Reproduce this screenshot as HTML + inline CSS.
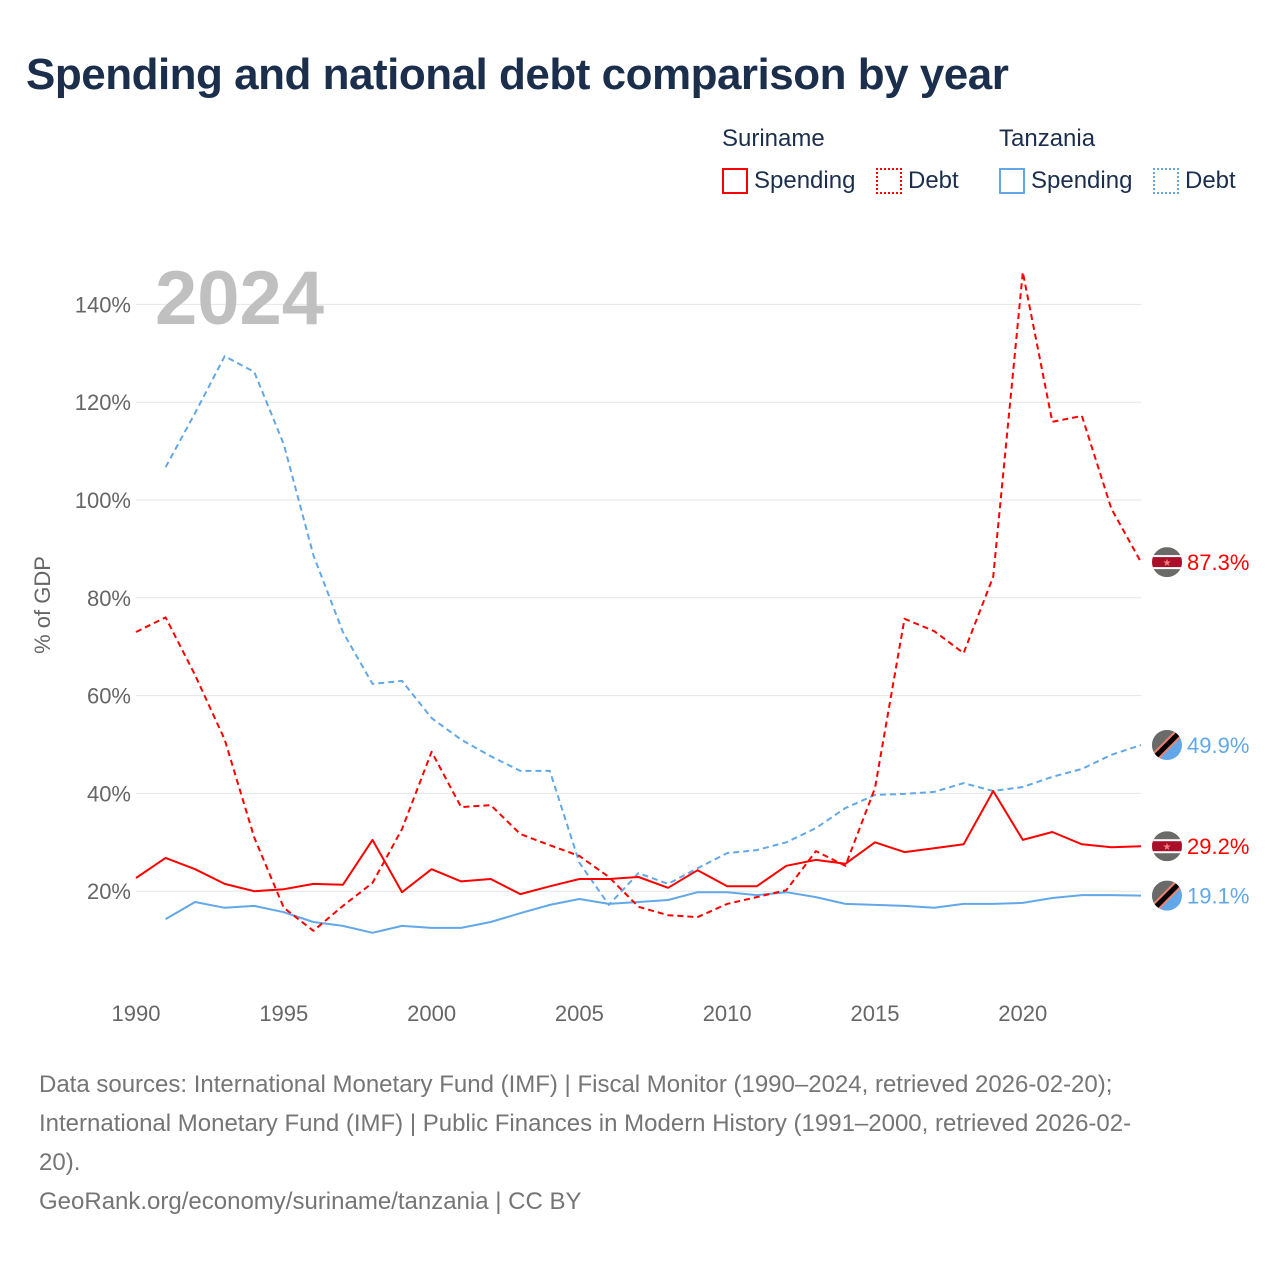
<!DOCTYPE html>
<html><head><meta charset="utf-8"><style>
body{margin:0;background:#fff;font-family:"Liberation Sans",sans-serif;}
#wrap{position:relative;width:1280px;height:1280px;overflow:hidden;}
.t{position:absolute;white-space:nowrap;}
</style></head><body>
<div id="wrap">
<div class="t" style="left:26px;top:50px;font-size:44px;font-weight:bold;color:#1b2f4d;letter-spacing:-0.5px">Spending and national debt comparison by year</div>
<div class="t" style="left:722px;top:125px;font-size:24px;color:#1b2f4d">Suriname</div>
<div class="t" style="left:999px;top:125px;font-size:24px;color:#1b2f4d">Tanzania</div>
<div class="t" style="left:722px;top:167px;font-size:24px;color:#1b2f4d"><span style="display:inline-block;width:22px;height:22px;border:2px solid #f00;vertical-align:-6px;margin-right:6px"></span>Spending</div>
<div class="t" style="left:876px;top:167px;font-size:24px;color:#1b2f4d"><span style="display:inline-block;width:22px;height:22px;border:2px dotted #f00;vertical-align:-6px;margin-right:6px"></span>Debt</div>
<div class="t" style="left:999px;top:167px;font-size:24px;color:#1b2f4d"><span style="display:inline-block;width:22px;height:22px;border:2px solid #62a8e8;vertical-align:-6px;margin-right:6px"></span>Spending</div>
<div class="t" style="left:1153px;top:167px;font-size:24px;color:#1b2f4d"><span style="display:inline-block;width:22px;height:22px;border:2px dotted #62a8e8;vertical-align:-6px;margin-right:6px"></span>Debt</div>
<svg id="chart" width="1280" height="1280" style="position:absolute;left:0;top:0"></svg>
<div class="t" style="left:39px;top:1065px;font-size:24px;line-height:39px;color:#757575;white-space:nowrap;">Data sources: International Monetary Fund (IMF) | Fiscal Monitor (1990–2024, retrieved 2026-02-20);<br>International Monetary Fund (IMF) | Public Finances in Modern History (1991–2000, retrieved 2026-02-<br>20).<br>GeoRank.org/economy/suriname/tanzania | CC BY</div>
</div>
<script>
const years=[];for(let y=1990;y<=2024;y++)years.push(y);
const surSpending=[22.7,26.8,24.5,21.5,20,20.4,21.5,21.3,30.5,19.8,24.5,22,22.5,19.4,21,22.5,22.5,22.9,20.7,24.3,21,21,25.2,26.4,25.6,30,28,28.8,29.6,40.5,30.5,32.1,29.6,29,29.2];
const surDebt=[73,76,64.2,51,31,16.6,11.9,17,21.7,32.7,48.5,37.2,37.6,31.7,29.4,27.2,22.9,16.8,15.1,14.7,17.4,18.8,20.2,28.2,25.2,41.1,75.7,73.2,68.7,84.3,146.6,116,117.2,98.2,87.3];
const tzaSpending=[null,14.3,17.8,16.6,17,15.7,13.7,12.9,11.5,12.9,12.5,12.5,13.7,15.5,17.2,18.4,17.4,17.8,18.2,19.8,19.8,19.2,19.8,18.8,17.4,17.2,17,16.6,17.4,17.4,17.6,18.6,19.2,19.2,19.1];
const tzaDebt=[null,106.7,117.8,129.4,126.2,111.4,88.7,73,62.4,63,55.4,51,47.6,44.6,44.6,25.8,17.2,23.7,21.5,24.7,27.8,28.4,30,32.9,37,39.7,39.9,40.3,42.1,40.5,41.3,43.4,45,47.9,49.9];
const yTicks=[20,40,60,80,100,120,140];
const xTicks=[1990,1995,2000,2005,2010,2015,2020];
const NS='http://www.w3.org/2000/svg';
const svg=document.getElementById('chart');
const X=y=>136+(y-1990)*(1141-136)/34;
const Y=v=>989-v*4.89;
function el(t,a,p){const e=document.createElementNS(NS,t);for(const k in a)e.setAttribute(k,a[k]);(p||svg).appendChild(e);return e;}
yTicks.forEach(v=>{
 const l=el('line',{x1:136,x2:1141,y1:Y(v),y2:Y(v),stroke:'#e6e6e6','stroke-width':1});
 
 
 const t=el('text',{x:131,y:Y(v)+8,'text-anchor':'end','font-size':22,fill:'#666','font-family':'Liberation Sans'});
 t.textContent=v+'%';
 
 
});
xTicks.forEach(v=>{
 const t=el('text',{x:X(v),y:1021,'text-anchor':'middle','font-size':22,fill:'#666','font-family':'Liberation Sans'});
 t.textContent=v;
 
 
});
const yt=el('text',{x:0,y:0,transform:'translate(50,605) rotate(-90)','text-anchor':'middle','font-size':22,fill:'#666','font-family':'Liberation Sans'});
yt.textContent='% of GDP';


const yr=el('text',{x:155,y:324,'font-size':76,'font-weight':'bold',fill:'#c0c0c0','font-family':'Liberation Sans'});
yr.textContent='2024';


function line(data,color,dash,name){
 let d='';data.forEach((v,i)=>{if(v==null)return;d+=(d?'L':'M')+X(years[i]).toFixed(1)+','+Y(v).toFixed(1);});
 const p=el('path',{d:d,fill:'none',stroke:color,'stroke-width':2,'stroke-dasharray':dash||'none','stroke-linejoin':'round'});
 
 
}
line(tzaDebt,'#62a8e8','6,4','line-tanzania-debt');
line(tzaSpending,'#62a8e8',null,'line-tanzania-spending');
line(surDebt,'#f00','6,4','line-suriname-debt');
line(surSpending,'#f00',null,'line-suriname-spending');
const defs=el('defs',{});
let cid=0;
function flag(v,country,color,name){
 const cx=1167,cy=Y(v);const id='c'+(cid++);
 const cp=el('clipPath',{id:id},defs);el('circle',{cx:cx,cy:cy,r:15},cp);
 const g=el('g',{'clip-path':'url(#'+id+')'});
 
 
 if(country==='sur'){
  el('rect',{x:cx-15,y:cy-15,width:30,height:30,fill:'#6a6a68'},g);
  el('rect',{x:cx-15,y:cy-7,width:30,height:14,fill:'#fff'},g);
  el('rect',{x:cx-15,y:cy-5,width:30,height:10,fill:'#a8102a'},g);
  el('text',{x:cx,y:cy+4,'text-anchor':'middle','font-size':10,fill:'#f38080'},g).textContent='★';
 }else{
  el('rect',{x:cx-15,y:cy-15,width:30,height:30,fill:'#62a8e8'},g);
  el('polygon',{points:`${cx-15},${cy-15} ${cx+15},${cy-15} ${cx-15},${cy+15}`,fill:'#6a6a68'},g);
  el('line',{x1:cx-17,y1:cy+17,x2:cx+17,y2:cy-17,stroke:'#f08070','stroke-width':9},g);
  el('line',{x1:cx-17,y1:cy+17,x2:cx+17,y2:cy-17,stroke:'#000','stroke-width':5},g);
 }
 const t=el('text',{x:1187,y:cy+8,'font-size':22,fill:color,'font-family':'Liberation Sans'});
 t.textContent=v.toFixed(1)+'%';
 
 
}
flag(surDebt[34],'sur','#f00','suriname-debt');
flag(tzaDebt[34],'tza','#62a8e8','tanzania-debt');
flag(surSpending[34],'sur','#f00','suriname-spending');
flag(tzaSpending[34],'tza','#62a8e8','tanzania-spending');
</script>
</body></html>
